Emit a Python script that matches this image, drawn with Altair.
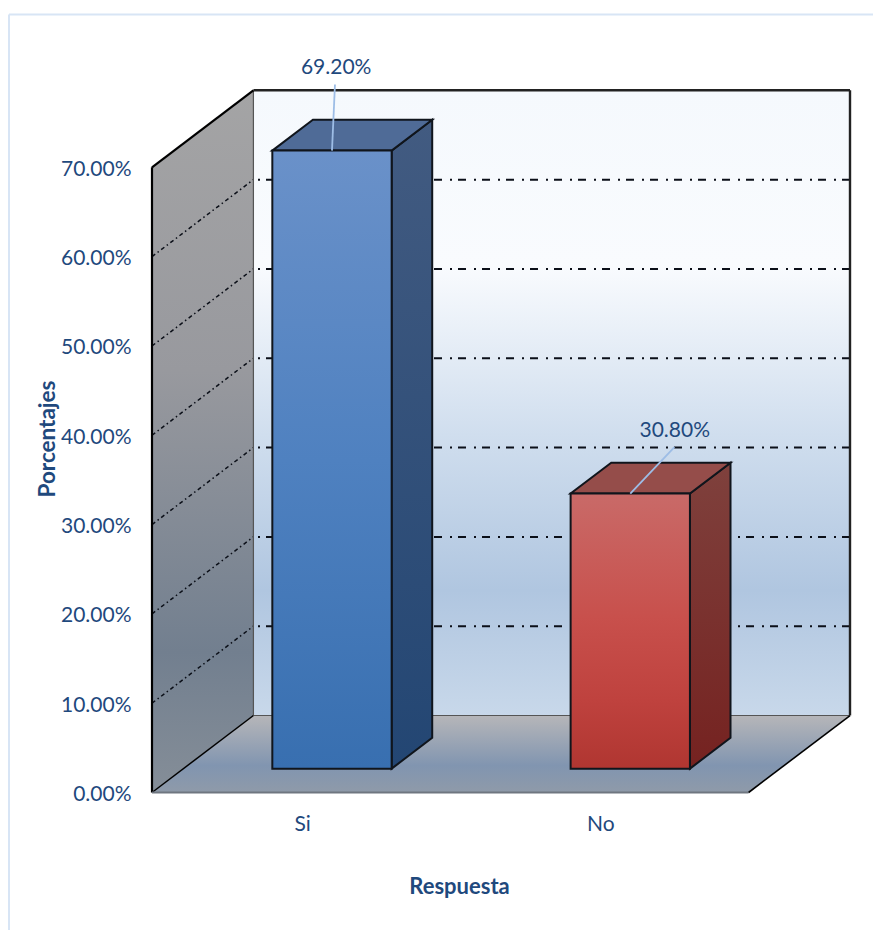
import altair as alt
import pandas as pd

# Chart values
categories = ["Si", "No"]
shares = [0.692, 0.308]
tick_values = [0.0, 0.1, 0.2, 0.3, 0.4, 0.5, 0.6, 0.7]
grid_values = [0.1, 0.2, 0.3, 0.4, 0.5, 0.6]

# Oblique projection: depth 0..1 shifts a point along these two data-space offsets
DEPTH_X = 0.34
DEPTH_Y = 0.0862
X_MAX = 2.34
Y_MAX = 0.786
WALL_TOP = 0.7
BAR_INSET = 0.298
BAR_WIDTH = 0.4
BAR_D0 = 0.31
BAR_D1 = 0.71

INK = "#1f497d"
FONT = "Lato"
x_scale = alt.Scale(domain=[0, X_MAX], nice=False, zero=False)
y_scale = alt.Scale(domain=[0, Y_MAX], nice=False, zero=False)

x_axis = alt.Axis(
    values=[0.5, 1.5],
    labelExpr=f"datum.value < 1 ? '{categories[0]}' : '{categories[1]}'",
    domain=False, ticks=False, grid=False,
    labelFont=FONT, labelFontSize=21, labelColor=INK,
    labelPadding=32, labelBaseline="middle", labelOffset=1,
    title="Respuesta", titleFont=FONT, titleFontSize=22, titleFontWeight="bold",
    titleColor=INK, titleX=307, titleY=94, titleBaseline="middle",
)
y_axis = alt.Axis(
    values=tick_values, format=".2%",
    domain=False, ticks=False, grid=False,
    labelFont=FONT, labelFontSize=21, labelColor=INK, labelPadding=21, labelOffset=2,
    title="Porcentajes", titleFont=FONT, titleFontSize=22.5, titleFontWeight="bold",
    titleColor=INK, titleX=-105, titleY=348, titleAngle=270, titleBaseline="middle",
)


def gradient(*stops, x2=0, y2=1):
    return alt.Gradient(
        gradient="linear", x1=0, y1=0, x2=x2, y2=y2,
        stops=[alt.GradientStop(offset=o, color=c) for o, c in stops],
    )


def px(c, d):
    return c + d * DEPTH_X


def py(v, d):
    return v + d * DEPTH_Y


def enc(**kw):
    out = {}
    for ch, field in kw.items():
        if ch == "x":
            out[ch] = alt.X(field, type="quantitative", scale=x_scale, axis=x_axis)
        elif ch == "y":
            out[ch] = alt.Y(field, type="quantitative", scale=y_scale, axis=y_axis)
        else:
            out[ch] = alt.X2(field) if ch == "x2" else alt.Y2(field)
    return out


def side_face(c, v, d0, d1, fill, **mark):
    """Parallelogram with vertical edges, running from depth d0 to d1."""
    df = pd.DataFrame({
        "x": [px(c, d0), px(c, d1)],
        "y": [py(v, d0), py(v, d1)],
        "y0": [py(0, d0), py(0, d1)],
    })
    return alt.Chart(df).mark_area(fill=fill, orient="vertical", **mark).encode(
        **enc(x="x", y="y", y2="y0")
    )


def flat_face(c0, c1, v, d0, d1, fill, **mark):
    """Parallelogram with horizontal edges, running from depth d0 to d1."""
    df = pd.DataFrame({
        "y": [py(v, d0), py(v, d1)],
        "x": [px(c0, d0), px(c0, d1)],
        "x1": [px(c1, d0), px(c1, d1)],
    })
    return alt.Chart(df).mark_area(fill=fill, orient="horizontal", **mark).encode(
        **enc(y="y", x="x", x2="x1")
    )


def segment(x0, y0, x1, y1, color, width, dash=None):
    df = pd.DataFrame({"x": [x0], "y": [y0], "x1": [x1], "y1": [y1]})
    props = dict(color=color, strokeWidth=width)
    if dash:
        props["strokeDash"] = dash
    return alt.Chart(df).mark_rule(**props).encode(**enc(x="x", y="y", x2="x1", y2="y1"))


# Back wall
back_df = pd.DataFrame({
    "x": [px(0, 1)], "x1": [px(2, 1)], "y": [py(WALL_TOP, 1)], "y1": [py(0, 1)],
})
back_wall = alt.Chart(back_df).mark_rect(
    fill=gradient(
        (0.0, "#f5f9fd"), (0.28, "#f9fbfe"), (0.55, "#d0deee"),
        (0.8, "#b0c6e0"), (1.0, "#c8d8ea"),
    )
).encode(**enc(x="x", x2="x1", y="y", y2="y1"))

layers = [back_wall]

left_wall = side_face(0, WALL_TOP, 0, 1, gradient(
    (0.0, "#a4a4a5"), (0.4, "#98999e"), (0.8, "#727f8f"), (1.0, "#858e98"),
))
floor = flat_face(0, 2, 0, 0, 1, gradient(
    (0.0, "#b6b6b9"), (0.65, "#8195b0"), (1.0, "#8f9aa9"),
))
layers += [left_wall, floor]

# Dash-dot gridlines on the two walls
for g in grid_values:
    layers.append(segment(px(2, 1), py(g, 1), px(0, 1), py(g, 1), "#0b0f18", 2, [8, 6, 2, 8]))
    layers.append(segment(px(0, 0), py(g, 0), px(0, 1), py(g, 1), "#0b0f18", 1.5, [4, 3, 1.5, 3]))

# Wall and floor outlines
layers += [
    segment(px(0, 1), py(WALL_TOP, 1), px(2, 1), py(WALL_TOP, 1), "#222222", 2.4),
    segment(px(2, 1), py(WALL_TOP, 1), px(2, 1), py(0, 1), "#222222", 2.4),
    segment(px(0, 1), py(WALL_TOP, 1), px(0, 1), py(0, 1), "#555555", 1.2),
    segment(px(0, 1), py(0, 1), px(2, 1), py(0, 1), "#555555", 1.2),
    segment(px(0, 0), py(WALL_TOP, 0), px(0, 1), py(WALL_TOP, 1), "#000000", 2.2),
    segment(px(0, 0), py(WALL_TOP, 0), px(0, 0), py(0, 0), "#000000", 2.2),
    segment(px(0, 0), py(0, 0), px(0, 1), py(0, 1), "#000000", 1.5),
    segment(px(0, 0), py(0, 0), px(2, 0), py(0, 0), "#6f7680", 2),
    segment(px(2, 0), py(0, 0), px(2, 1), py(0, 1), "#000000", 1.6),
]

# One box per category: side, top and front faces
bar_fills = [
    dict(
        front=gradient((0.0, "#6a91c9"), (0.5, "#4f81c0"), (1.0, "#386fb0")),
        side=gradient((0.0, "#425b81"), (1.0, "#234673")),
        top="#4f6b97",
    ),
    dict(
        front=gradient((0.0, "#c96a68"), (0.45, "#c8504c"), (0.75, "#bf423e"), (1.0, "#b03631")),
        side=gradient((0.0, "#7f413d"), (1.0, "#752220")),
        top="#954d4a",
    ),
]
EDGE = dict(stroke="#10151c", strokeWidth=2, strokeJoin="miter")
for i, (share, fills) in enumerate(zip(shares, bar_fills)):
    c0, c1 = i + BAR_INSET, i + BAR_INSET + BAR_WIDTH
    layers.append(side_face(c1, share, BAR_D0, BAR_D1, fills["side"], **EDGE))
    layers.append(flat_face(c0, c1, share, BAR_D0, BAR_D1, fills["top"], **EDGE))
    front = pd.DataFrame({
        "x": [px(c0, BAR_D0)], "x1": [px(c1, BAR_D0)],
        "y": [py(share, BAR_D0)], "y1": [py(0, BAR_D0)],
    })
    layers.append(
        alt.Chart(front).mark_rect(fill=fills["front"], **EDGE).encode(
            **enc(x="x", x2="x1", y="y", y2="y1")
        )
    )

# Value labels with their leader lines, placed relative to each bar's top
leader_end = [(0.01, 0.074), (0.148, 0.052)]
label_at = [(0.014, 0.0925), (0.149, 0.0696)]
label_rows = []
for i, share in enumerate(shares):
    mid = px(i + BAR_INSET + BAR_WIDTH / 2, BAR_D0)
    top = py(share, BAR_D0)
    layers.append(segment(mid, top, mid + leader_end[i][0], top + leader_end[i][1], "#9dbde6", 1.8))
    label_rows.append({"x": mid + label_at[i][0], "y": top + label_at[i][1], "share": share})
layers.append(
    alt.Chart(pd.DataFrame(label_rows)).mark_text(
        font=FONT, fontSize=21, color=INK, baseline="middle", align="center"
    ).encode(
        **enc(x="x", y="y"),
        text=alt.Text("share:Q", format=".2%"),
    )
)

# Light chart-area border along the top and left
layers.append(
    alt.Chart(pd.DataFrame({"k": [0]})).mark_rule(color="#d8e5f5", strokeWidth=2).encode(
        x=alt.value(-143), x2=alt.value(721), y=alt.value(-76)
    )
)
layers.append(
    alt.Chart(pd.DataFrame({"k": [0]})).mark_rule(color="#d8e5f5", strokeWidth=2).encode(
        x=alt.value(-143), y=alt.value(-76), y2=alt.value(840)
    )
)

chart = alt.layer(*layers).properties(
    width=698,
    height=702,
    padding={"left": 152, "top": 90.5, "right": 23, "bottom": 137.5},
    autosize=alt.AutoSizeParams(type="none"),
    background="#ffffff",
).configure_view(stroke=None)

chart.save("out.html", embed_options={"renderer": "svg", "actions": False})
